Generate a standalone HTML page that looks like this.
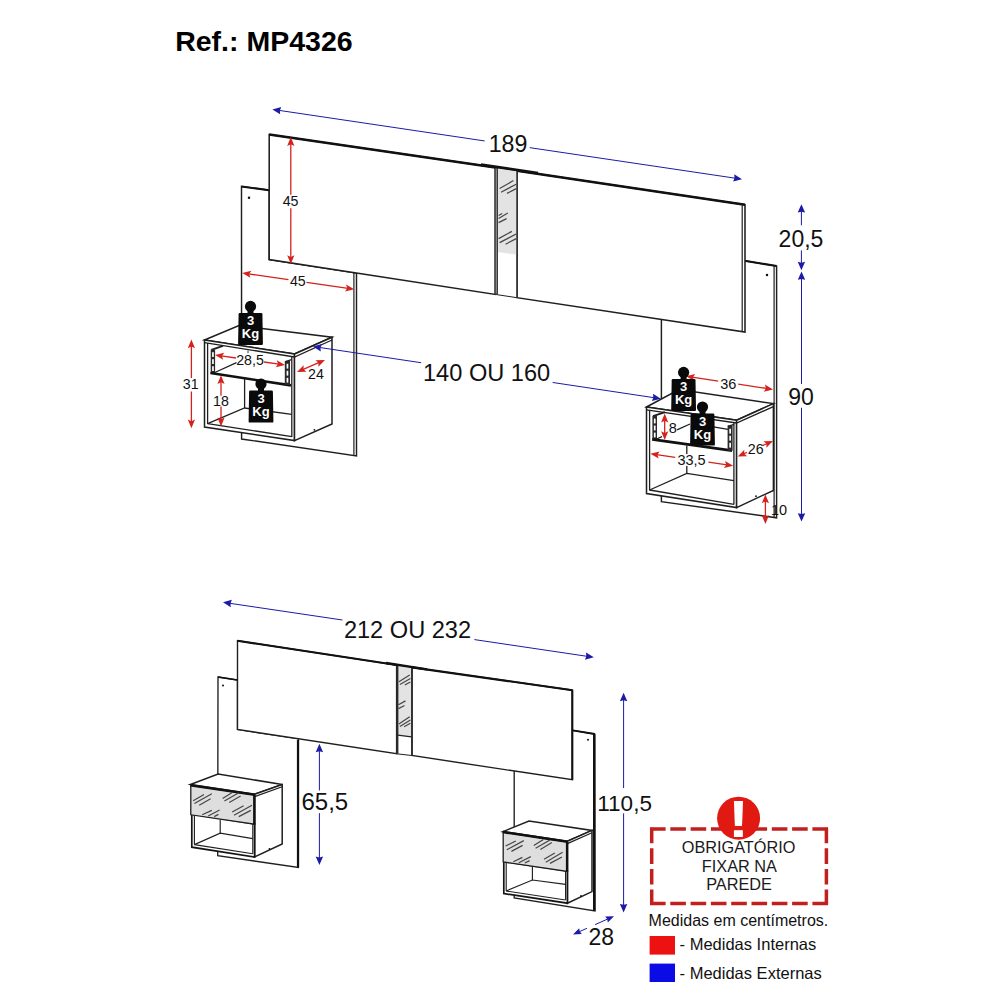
<!DOCTYPE html>
<html lang="pt-BR">
<head>
<meta charset="utf-8">
<title>Ref.: MP4326</title>
<style>
html,body{margin:0;padding:0;background:#fff;}
body{width:1000px;height:1000px;overflow:hidden;font-family:"Liberation Sans",Arial,sans-serif;}
svg{display:block;}
svg text{font-family:"Liberation Sans",Arial,sans-serif;}
</style>
</head>
<body>
<svg width="1000" height="1000" viewBox="0 0 1000 1000">
<rect x="0" y="0" width="1000" height="1000" fill="#ffffff"/>
<text x="175.20" y="51.40" font-size="28.5" text-anchor="start" font-weight="bold" fill="#000" >Ref.: MP4326</text>
<g id="top-drawing">
<polygon points="241.50,186.40 269.20,190.20 269.20,259.60 356.50,273.00 356.50,456.00 241.60,439.00" fill="#fff" stroke="#1f1f1f" stroke-width="1.45" stroke-linejoin="miter" />
<polyline points="241.50,186.50 269.00,190.20" fill="none" stroke="#111" stroke-width="2.1" />
<polyline points="353.90,273.00 353.90,455.40" fill="none" stroke="#1f1f1f" stroke-width="1.2" />
<circle cx="249" cy="197.8" r="1.25" fill="#111"/>
<polygon points="744.50,260.80 776.60,266.00 776.60,517.80 661.40,501.60 661.40,318.00" fill="#fff" stroke="#1f1f1f" stroke-width="1.45" stroke-linejoin="miter" />
<polyline points="744.50,260.80 776.60,266.00" fill="none" stroke="#111" stroke-width="2.1" />
<polyline points="774.10,266.00 774.10,517.20" fill="none" stroke="#1f1f1f" stroke-width="1.2" />
<circle cx="767" cy="275" r="1.25" fill="#111"/>
<polygon points="269.20,134.60 495.30,167.50 495.30,294.40 269.20,259.60" fill="#fff" stroke="#1f1f1f" stroke-width="1.55" stroke-linejoin="miter" />
<polyline points="269.20,134.60 495.30,167.50" fill="none" stroke="#111" stroke-width="2.5" />
<polygon points="517.00,170.80 745.00,204.70 745.00,332.00 517.00,297.70" fill="#fff" stroke="#1f1f1f" stroke-width="1.55" stroke-linejoin="miter" />
<polyline points="517.00,170.80 745.00,204.70" fill="none" stroke="#111" stroke-width="2.5" />
<polyline points="742.20,204.40 742.20,331.40" fill="none" stroke="#1f1f1f" stroke-width="1.2" />
<polygon points="495.30,167.40 517.00,171.00 517.00,297.70 495.30,294.40" fill="#fff" stroke="#1f1f1f" stroke-width="1.0" stroke-linejoin="miter" />
<polygon points="497.00,168.20 516.40,171.00 516.40,254.60 497.00,252.00" fill="#e3e3e3"/>
<polyline points="496.30,167.40 496.30,294.50" fill="none" stroke="#3a3a3a" stroke-width="3.4" />
<polyline points="496.30,168.60 496.30,293.60" fill="none" stroke="#8c8c8c" stroke-width="1.2" />
<polyline points="517.00,171.00 517.00,297.70" fill="none" stroke="#333" stroke-width="1.3" />
<polyline points="481.00,164.60 538.00,173.00" fill="none" stroke="#111" stroke-width="2.6" />
<line x1="499.60" y1="188.60" x2="513.40" y2="180.60" stroke="#454545" stroke-width="1.2"/>
<line x1="501.00" y1="192.20" x2="516.20" y2="184.20" stroke="#454545" stroke-width="1.2"/>
<line x1="507.00" y1="193.40" x2="516.20" y2="188.60" stroke="#454545" stroke-width="1.2"/>
<line x1="498.60" y1="215.40" x2="502.20" y2="213.40" stroke="#454545" stroke-width="1.2"/>
<line x1="498.60" y1="218.40" x2="507.80" y2="213.00" stroke="#454545" stroke-width="1.2"/>
<line x1="498.60" y1="222.60" x2="506.60" y2="218.60" stroke="#454545" stroke-width="1.2"/>
<line x1="498.60" y1="238.60" x2="511.80" y2="231.40" stroke="#454545" stroke-width="1.2"/>
<line x1="499.60" y1="242.60" x2="516.20" y2="234.00" stroke="#454545" stroke-width="1.2"/>
<line x1="505.60" y1="244.20" x2="516.20" y2="238.60" stroke="#454545" stroke-width="1.2"/>
<polygon points="204.50,340.00 239.00,325.50 332.00,337.20 294.50,354.00" fill="#fff" stroke="#1f1f1f" stroke-width="1.5" stroke-linejoin="miter" />
<polygon points="204.50,340.00 294.50,354.00 294.50,440.60 204.50,427.00" fill="#fff" stroke="#1f1f1f" stroke-width="1.5" stroke-linejoin="miter" />
<polygon points="294.50,354.00 332.00,337.20 332.00,424.00 294.50,440.60" fill="#fff" stroke="#1f1f1f" stroke-width="1.5" stroke-linejoin="miter" />
<polyline points="204.50,342.60 294.50,357.00 332.00,340.00" fill="none" stroke="#1f1f1f" stroke-width="1.3" />
<polyline points="207.60,343.00 207.60,424.00" fill="none" stroke="#1f1f1f" stroke-width="1.3" />
<polyline points="291.80,356.60 291.80,437.00" fill="none" stroke="#1f1f1f" stroke-width="1.3" />
<polyline points="207.60,423.60 291.80,436.60" fill="none" stroke="#1f1f1f" stroke-width="1.3" />
<polyline points="207.60,423.60 244.60,408.00 291.80,414.40" fill="none" stroke="#1f1f1f" stroke-width="1.3" />
<polyline points="244.60,379.00 244.60,408.00" fill="none" stroke="#1f1f1f" stroke-width="1.3" />
<circle cx="314.4" cy="429.8" r="0.9" fill="#111"/>
<polyline points="211.30,349.80 223.00,345.80" fill="none" stroke="#1f1f1f" stroke-width="1.9" />
<rect x="210.7" y="349.6" width="4.4" height="23.6" fill="#2a2a2a"/>
<polyline points="214.80,372.50 236.50,362.60" fill="none" stroke="#1f1f1f" stroke-width="1.3" />
<polyline points="210.40,373.00 291.00,385.40" fill="none" stroke="#111" stroke-width="2.6" />
<rect x="284.8" y="361" width="5.2" height="24" fill="#2a2a2a"/>
<polyline points="285.20,361.60 291.60,359.60" fill="none" stroke="#1f1f1f" stroke-width="1.3" />
<polyline points="248.00,350.60 248.00,353.20" fill="none" stroke="#1f1f1f" stroke-width="0.9" />
<rect x="212.1" y="352.2" width="1.7" height="4.8" fill="#fff"/>
<rect x="286.6" y="363.8" width="1.7" height="4.8" fill="#fff"/>
<rect x="212.1" y="359.2" width="1.7" height="4.8" fill="#fff"/>
<rect x="286.6" y="370.8" width="1.7" height="4.8" fill="#fff"/>
<rect x="212.1" y="366.2" width="1.7" height="4.8" fill="#fff"/>
<rect x="286.6" y="377.8" width="1.7" height="4.8" fill="#fff"/>
<polygon points="646.50,407.00 679.00,389.50 773.40,403.60 736.60,420.20" fill="#fff" stroke="#1f1f1f" stroke-width="1.5" stroke-linejoin="miter" />
<polygon points="646.50,407.00 736.60,420.20 736.60,507.60 646.50,493.60" fill="#fff" stroke="#1f1f1f" stroke-width="1.5" stroke-linejoin="miter" />
<polygon points="736.60,420.20 773.40,403.60 773.40,490.40 736.60,507.60" fill="#fff" stroke="#1f1f1f" stroke-width="1.5" stroke-linejoin="miter" />
<polyline points="646.50,409.80 736.60,423.00 773.40,406.60" fill="none" stroke="#1f1f1f" stroke-width="1.3" />
<polyline points="649.60,410.20 649.60,490.40" fill="none" stroke="#1f1f1f" stroke-width="1.3" />
<polyline points="733.90,422.60 733.90,504.40" fill="none" stroke="#1f1f1f" stroke-width="1.3" />
<polyline points="649.60,490.00 733.90,504.40" fill="none" stroke="#1f1f1f" stroke-width="1.3" />
<polyline points="649.60,490.00 686.80,473.40 733.90,480.60" fill="none" stroke="#1f1f1f" stroke-width="1.3" />
<polyline points="686.80,445.40 686.80,454.00" fill="none" stroke="#1f1f1f" stroke-width="1.3" />
<polyline points="686.80,466.00 686.80,473.40" fill="none" stroke="#1f1f1f" stroke-width="1.3" />
<circle cx="756" cy="496.2" r="0.9" fill="#111"/>
<polyline points="653.00,416.20 665.00,412.20" fill="none" stroke="#1f1f1f" stroke-width="1.9" />
<rect x="652.4" y="416" width="4.6" height="23.6" fill="#2a2a2a"/>
<polyline points="656.60,439.00 662.00,436.60" fill="none" stroke="#1f1f1f" stroke-width="1.3" />
<polyline points="677.00,429.80 690.00,424.00" fill="none" stroke="#1f1f1f" stroke-width="1.3" />
<polyline points="652.20,439.40 732.00,450.60" fill="none" stroke="#111" stroke-width="2.6" />
<rect x="727.6" y="425.4" width="5" height="25.4" fill="#2a2a2a"/>
<polyline points="728.00,426.40 734.00,424.40" fill="none" stroke="#1f1f1f" stroke-width="1.3" />
<polyline points="712.00,426.60 728.00,429.40" fill="none" stroke="#1f1f1f" stroke-width="1.3" />
<rect x="653.9" y="418.6" width="1.7" height="4.8" fill="#fff"/>
<rect x="729.3" y="428.8" width="1.7" height="4.8" fill="#fff"/>
<rect x="653.9" y="425.6" width="1.7" height="4.8" fill="#fff"/>
<rect x="729.3" y="435.8" width="1.7" height="4.8" fill="#fff"/>
<rect x="653.9" y="432.6" width="1.7" height="4.8" fill="#fff"/>
<rect x="729.3" y="442.8" width="1.7" height="4.8" fill="#fff"/>
<polyline points="290.80,143.26 290.80,194.71" fill="none" stroke="#d3231c" stroke-width="1.3" />
<polyline points="290.80,208.16 290.80,257.84" fill="none" stroke="#d3231c" stroke-width="1.3" />
<polygon points="290.80,137.10 294.40,145.90 290.80,144.14 287.20,145.90" fill="#d3231c"/>
<polygon points="290.80,264.00 287.20,255.20 290.80,256.96 294.40,255.20" fill="#d3231c"/>
<text x="290.60" y="206.20" font-size="14.2" text-anchor="middle" font-weight="normal" fill="#111" >45</text>
<polyline points="248.30,273.88 288.46,279.69" fill="none" stroke="#d3231c" stroke-width="1.3" />
<polyline points="306.49,282.30 348.10,288.32" fill="none" stroke="#d3231c" stroke-width="1.3" />
<polygon points="242.20,273.00 251.42,270.70 249.17,274.01 250.39,277.82" fill="#d3231c"/>
<polygon points="354.20,289.20 344.98,291.50 347.23,288.19 346.01,284.38" fill="#d3231c"/>
<text x="297.80" y="285.80" font-size="14.2" text-anchor="middle" font-weight="normal" fill="#111" >45</text>
<polyline points="191.40,345.56 191.40,378.03" fill="none" stroke="#d3231c" stroke-width="1.3" />
<polyline points="191.40,391.53 191.40,422.04" fill="none" stroke="#d3231c" stroke-width="1.3" />
<polygon points="191.40,339.40 195.00,348.20 191.40,346.44 187.80,348.20" fill="#d3231c"/>
<polygon points="191.40,428.20 187.80,419.40 191.40,421.16 195.00,419.40" fill="#d3231c"/>
<text x="190.70" y="388.80" font-size="14.2" text-anchor="middle" font-weight="normal" fill="#111" >31</text>
<polyline points="221.10,355.87 236.00,358.00" fill="none" stroke="#d3231c" stroke-width="1.3" />
<polyline points="264.00,362.00 278.90,364.13" fill="none" stroke="#d3231c" stroke-width="1.3" />
<polygon points="215.00,355.00 224.22,352.68 221.97,356.00 223.20,359.81" fill="#d3231c"/>
<polygon points="285.00,365.00 275.78,367.32 278.03,364.00 276.80,360.19" fill="#d3231c"/>
<text x="250.00" y="364.80" font-size="14.2" text-anchor="middle" font-weight="normal" fill="#111" >28,5</text>
<polyline points="302.66,369.57 319.34,362.43" fill="none" stroke="#d3231c" stroke-width="1.3" />
<polygon points="297.00,372.00 303.67,365.22 303.47,369.23 306.51,371.84" fill="#d3231c"/>
<polygon points="325.00,360.00 318.33,366.78 318.53,362.77 315.49,360.16" fill="#d3231c"/>
<text x="316.00" y="378.80" font-size="14.2" text-anchor="middle" font-weight="normal" fill="#111" >24</text>
<polyline points="221.00,381.36 221.00,395.68" fill="none" stroke="#d3231c" stroke-width="1.3" />
<polyline points="221.00,406.43 221.00,420.24" fill="none" stroke="#d3231c" stroke-width="1.3" />
<polygon points="221.00,375.20 224.60,384.00 221.00,382.24 217.40,384.00" fill="#d3231c"/>
<polygon points="221.00,426.40 217.40,417.60 221.00,419.36 224.60,417.60" fill="#d3231c"/>
<text x="221.00" y="405.80" font-size="14.2" text-anchor="middle" font-weight="normal" fill="#111" >18</text>
<polyline points="692.09,377.12 718.19,381.08" fill="none" stroke="#d3231c" stroke-width="1.3" />
<polyline points="738.20,384.12 766.91,388.48" fill="none" stroke="#d3231c" stroke-width="1.3" />
<polygon points="686.00,376.20 695.24,373.96 692.96,377.26 694.16,381.08" fill="#d3231c"/>
<polygon points="773.00,389.40 763.76,391.64 766.04,388.34 764.84,384.52" fill="#d3231c"/>
<text x="728.20" y="388.60" font-size="14.5" text-anchor="middle" font-weight="normal" fill="#111" >36</text>
<polyline points="664.70,419.76 664.70,433.84" fill="none" stroke="#d3231c" stroke-width="1.3" />
<polygon points="664.70,413.60 668.30,422.40 664.70,420.64 661.10,422.40" fill="#d3231c"/>
<polygon points="664.70,440.00 661.10,431.20 664.70,432.96 668.30,431.20" fill="#d3231c"/>
<text x="672.80" y="433.40" font-size="14.5" text-anchor="middle" font-weight="normal" fill="#111" >8</text>
<polyline points="656.50,454.68 675.24,457.40" fill="none" stroke="#d3231c" stroke-width="1.3" />
<polyline points="708.36,462.20 727.10,464.92" fill="none" stroke="#d3231c" stroke-width="1.3" />
<polygon points="650.40,453.80 659.63,451.50 657.37,454.81 658.59,458.62" fill="#d3231c"/>
<polygon points="733.20,465.80 723.97,468.10 726.23,464.79 725.01,460.98" fill="#d3231c"/>
<text x="691.50" y="465.40" font-size="14.5" text-anchor="middle" font-weight="normal" fill="#111" >33,5</text>
<polyline points="743.34,454.02 746.88,452.47" fill="none" stroke="#d3231c" stroke-width="1.3" />
<polyline points="762.41,445.65 767.36,443.48" fill="none" stroke="#d3231c" stroke-width="1.3" />
<polygon points="737.70,456.50 744.31,449.67 744.15,453.67 747.20,456.26" fill="#d3231c"/>
<polygon points="773.00,441.00 766.39,447.83 766.55,443.83 763.50,441.24" fill="#d3231c"/>
<text x="755.70" y="454.20" font-size="14.2" text-anchor="middle" font-weight="normal" fill="#111" >26</text>
<polyline points="765.40,500.56 765.40,517.84" fill="none" stroke="#d3231c" stroke-width="1.3" />
<polygon points="765.40,494.40 769.00,503.20 765.40,501.44 761.80,503.20" fill="#d3231c"/>
<polygon points="765.40,524.00 761.80,515.20 765.40,516.96 769.00,515.20" fill="#d3231c"/>
<text x="779.00" y="514.60" font-size="14.5" text-anchor="middle" font-weight="normal" fill="#111" >10</text>
<circle cx="250.50" cy="306.40" r="5.6" fill="#0a0a0a"/>
<rect x="247.50" y="310.00" width="6" height="4" fill="#0a0a0a"/>
<path d="M239.70,313.00 L261.30,313.00 Q262.30,313.00 262.40,314.20 L262.90,343.80 Q262.90,345.00 261.70,345.00 L239.30,345.00 Q238.10,345.00 238.10,343.80 L238.60,314.20 Q238.70,313.00 239.70,313.00 Z" fill="#0a0a0a"/>
<text x="250.50" y="325.40" font-size="13" text-anchor="middle" font-weight="bold" fill="#fff" >3</text>
<text x="250.50" y="338.10" font-size="13" text-anchor="middle" font-weight="bold" fill="#fff" >Kg</text>
<circle cx="261.00" cy="384.00" r="5.6" fill="#0a0a0a"/>
<rect x="258.00" y="387.60" width="6" height="4" fill="#0a0a0a"/>
<path d="M250.20,390.60 L271.80,390.60 Q272.80,390.60 272.90,391.80 L273.40,421.40 Q273.40,422.60 272.20,422.60 L249.80,422.60 Q248.60,422.60 248.60,421.40 L249.10,391.80 Q249.20,390.60 250.20,390.60 Z" fill="#0a0a0a"/>
<text x="261.00" y="403.00" font-size="13" text-anchor="middle" font-weight="bold" fill="#fff" >3</text>
<text x="261.00" y="415.70" font-size="13" text-anchor="middle" font-weight="bold" fill="#fff" >Kg</text>
<circle cx="683.60" cy="372.40" r="5.6" fill="#0a0a0a"/>
<rect x="680.60" y="376.00" width="6" height="4" fill="#0a0a0a"/>
<path d="M672.80,379.00 L694.40,379.00 Q695.40,379.00 695.50,380.20 L696.00,409.80 Q696.00,411.00 694.80,411.00 L672.40,411.00 Q671.20,411.00 671.20,409.80 L671.70,380.20 Q671.80,379.00 672.80,379.00 Z" fill="#0a0a0a"/>
<text x="683.60" y="391.40" font-size="13" text-anchor="middle" font-weight="bold" fill="#fff" >3</text>
<text x="683.60" y="404.10" font-size="13" text-anchor="middle" font-weight="bold" fill="#fff" >Kg</text>
<circle cx="702.50" cy="407.00" r="5.6" fill="#0a0a0a"/>
<rect x="699.50" y="410.60" width="6" height="4" fill="#0a0a0a"/>
<path d="M691.70,413.60 L713.30,413.60 Q714.30,413.60 714.40,414.80 L714.90,444.40 Q714.90,445.60 713.70,445.60 L691.30,445.60 Q690.10,445.60 690.10,444.40 L690.60,414.80 Q690.70,413.60 691.70,413.60 Z" fill="#0a0a0a"/>
<text x="702.50" y="426.00" font-size="13" text-anchor="middle" font-weight="bold" fill="#fff" >3</text>
<text x="702.50" y="438.70" font-size="13" text-anchor="middle" font-weight="bold" fill="#fff" >Kg</text>
<polyline points="278.22,110.26 484.66,140.95" fill="none" stroke="#1b1ba6" stroke-width="1.0" />
<polyline points="529.74,147.65 736.18,178.34" fill="none" stroke="#1b1ba6" stroke-width="1.0" />
<polygon points="272.40,109.40 281.25,106.98 279.88,110.51 280.16,114.29" fill="#1b1ba6"/>
<polygon points="742.00,179.20 733.15,181.62 734.52,178.09 734.24,174.31" fill="#1b1ba6"/>
<text x="508.00" y="152.00" font-size="23.2" text-anchor="middle" font-weight="normal" fill="#111" >189</text>
<polyline points="801.40,210.08 801.40,225.32" fill="none" stroke="#1b1ba6" stroke-width="1.0" />
<polyline points="801.40,250.40 801.40,264.32" fill="none" stroke="#1b1ba6" stroke-width="1.0" />
<polygon points="801.40,204.20 805.10,212.60 801.40,211.76 797.70,212.60" fill="#1b1ba6"/>
<polygon points="801.40,270.20 797.70,261.80 801.40,262.64 805.10,261.80" fill="#1b1ba6"/>
<text x="801.00" y="246.50" font-size="23" text-anchor="middle" font-weight="normal" fill="#111" >20,5</text>
<polyline points="801.50,277.28 801.50,383.99" fill="none" stroke="#1b1ba6" stroke-width="1.0" />
<polyline points="801.50,407.76 801.50,515.72" fill="none" stroke="#1b1ba6" stroke-width="1.0" />
<polygon points="801.50,271.40 805.20,279.80 801.50,278.96 797.80,279.80" fill="#1b1ba6"/>
<polygon points="801.50,521.60 797.80,513.20 801.50,514.04 805.20,513.20" fill="#1b1ba6"/>
<text x="801.00" y="405.00" font-size="23" text-anchor="middle" font-weight="normal" fill="#111" >90</text>
<polyline points="318.81,347.37 421.17,362.73" fill="none" stroke="#1b1ba6" stroke-width="1.0" />
<polyline points="552.63,382.47 654.99,397.83" fill="none" stroke="#1b1ba6" stroke-width="1.0" />
<polygon points="313.00,346.50 321.86,344.09 320.48,347.62 320.76,351.41" fill="#1b1ba6"/>
<polygon points="660.80,398.70 651.94,401.11 653.32,397.58 653.04,393.79" fill="#1b1ba6"/>
<text x="486.60" y="380.60" font-size="23.6" text-anchor="middle" font-weight="normal" fill="#111" >140 OU 160</text>
</g>
<g id="bottom-drawing">
<polygon points="218.00,677.00 237.50,680.00 237.50,729.50 298.40,738.60 298.40,867.50 217.70,855.60" fill="#fff" stroke="#1f1f1f" stroke-width="1.35" stroke-linejoin="miter" />
<polyline points="298.00,740.00 298.00,867.30" fill="none" stroke="#111" stroke-width="2.2" />
<circle cx="223" cy="685.6" r="1" fill="#111"/>
<polygon points="572.50,730.40 594.70,734.00 595.00,911.00 514.20,898.00 514.20,770.00" fill="#fff" stroke="#1f1f1f" stroke-width="1.35" stroke-linejoin="miter" />
<polyline points="594.20,734.00 594.20,911.00" fill="none" stroke="#111" stroke-width="2.4" />
<circle cx="588" cy="739.8" r="1" fill="#111"/>
<polygon points="237.50,640.80 396.60,665.00 396.60,753.80 237.50,729.50" fill="#fff" stroke="#1f1f1f" stroke-width="1.4" stroke-linejoin="miter" />
<polyline points="237.50,640.80 396.60,665.00" fill="none" stroke="#111" stroke-width="2.1" />
<polygon points="411.90,667.40 572.50,690.20 572.50,779.80 411.90,755.50" fill="#fff" stroke="#1f1f1f" stroke-width="1.4" stroke-linejoin="miter" />
<polyline points="411.90,667.40 572.50,690.20" fill="none" stroke="#111" stroke-width="2.1" />
<polyline points="572.20,690.20 572.20,779.80" fill="none" stroke="#111" stroke-width="2.0" />
<polyline points="572.60,730.40 594.80,734.00" fill="none" stroke="#111" stroke-width="1.9" />
<polyline points="218.00,677.00 237.50,680.00" fill="none" stroke="#111" stroke-width="1.7" />
<polygon points="396.60,665.00 411.90,667.40 411.90,755.50 396.60,753.80" fill="#fff" stroke="#1f1f1f" stroke-width="1.0" stroke-linejoin="miter" />
<polygon points="398.00,666.00 411.30,668.00 411.30,737.00 398.00,735.00" fill="#e3e3e3"/>
<polyline points="397.30,665.00 397.30,753.80" fill="none" stroke="#2a2a2a" stroke-width="2.2" />
<polyline points="411.90,667.40 411.90,755.50" fill="none" stroke="#2a2a2a" stroke-width="1.6" />
<polyline points="386.00,663.00 427.00,669.40" fill="none" stroke="#111" stroke-width="2.4" />
<line x1="398.90" y1="681.70" x2="409.70" y2="675.00" stroke="#454545" stroke-width="1.2"/>
<line x1="399.90" y1="684.50" x2="410.40" y2="678.50" stroke="#454545" stroke-width="1.2"/>
<line x1="404.80" y1="685.10" x2="410.40" y2="682.00" stroke="#454545" stroke-width="1.2"/>
<line x1="398.50" y1="704.70" x2="405.50" y2="700.90" stroke="#454545" stroke-width="1.2"/>
<line x1="398.50" y1="708.60" x2="404.50" y2="705.50" stroke="#454545" stroke-width="1.2"/>
<line x1="398.90" y1="724.00" x2="409.70" y2="716.70" stroke="#454545" stroke-width="1.2"/>
<line x1="399.90" y1="726.50" x2="410.40" y2="720.10" stroke="#454545" stroke-width="1.2"/>
<line x1="404.10" y1="726.80" x2="410.40" y2="723.30" stroke="#454545" stroke-width="1.2"/>
<polyline points="397.80,735.20 411.50,736.80" fill="none" stroke="#222" stroke-width="1.2" />
<polygon points="190.40,784.50 218.10,774.00 282.20,784.50 254.60,794.20" fill="#fff" stroke="#1f1f1f" stroke-width="1.5" stroke-linejoin="miter" />
<polygon points="254.60,794.20 282.20,784.50 282.20,844.00 254.60,857.00" fill="#fff" stroke="#1f1f1f" stroke-width="1.5" stroke-linejoin="miter" />
<polyline points="254.60,796.60 282.20,786.80" fill="none" stroke="#1f1f1f" stroke-width="1.15" />
<polygon points="191.80,814.00 254.60,824.00 254.60,857.00 191.80,847.20" fill="#fff" stroke="#151515" stroke-width="1.7" stroke-linejoin="miter" />
<polyline points="194.40,815.00 194.40,844.60" fill="none" stroke="#1f1f1f" stroke-width="1.15" />
<polyline points="252.80,824.00 252.80,853.80" fill="none" stroke="#1f1f1f" stroke-width="1.15" />
<polyline points="194.40,844.60 252.80,853.80" fill="none" stroke="#1f1f1f" stroke-width="1.15" />
<polyline points="194.40,844.60 220.20,833.20 252.80,838.60" fill="none" stroke="#1f1f1f" stroke-width="1.15" />
<polyline points="220.20,820.00 220.20,833.20" fill="none" stroke="#1f1f1f" stroke-width="1.15" />
<circle cx="269.5" cy="848.8" r="0.9" fill="#111"/>
<polygon points="190.80,785.40 254.60,794.80 254.60,824.20 190.80,814.80" fill="#dedede" stroke="#1f1f1f" stroke-width="1.3" stroke-linejoin="miter" />
<polyline points="190.40,785.20 254.80,794.80" fill="none" stroke="#111" stroke-width="2.6" />
<polyline points="254.30,794.80 254.30,824.40" fill="none" stroke="#111" stroke-width="2.4" />
<line x1="193.20" y1="800.80" x2="204.00" y2="794.40" stroke="#454545" stroke-width="1.2"/>
<line x1="194.40" y1="803.60" x2="211.80" y2="793.80" stroke="#454545" stroke-width="1.2"/>
<line x1="199.20" y1="805.20" x2="210.60" y2="798.80" stroke="#454545" stroke-width="1.2"/>
<line x1="222.60" y1="798.40" x2="232.20" y2="792.60" stroke="#454545" stroke-width="1.2"/>
<line x1="224.40" y1="801.00" x2="238.80" y2="792.80" stroke="#454545" stroke-width="1.2"/>
<line x1="229.20" y1="802.40" x2="240.60" y2="796.00" stroke="#454545" stroke-width="1.2"/>
<line x1="202.20" y1="814.80" x2="211.80" y2="810.40" stroke="#454545" stroke-width="1.2"/>
<line x1="208.20" y1="816.00" x2="219.60" y2="810.00" stroke="#454545" stroke-width="1.2"/>
<line x1="214.20" y1="816.60" x2="218.40" y2="814.40" stroke="#454545" stroke-width="1.2"/>
<line x1="232.20" y1="812.00" x2="243.60" y2="805.80" stroke="#454545" stroke-width="1.2"/>
<line x1="234.00" y1="815.20" x2="252.00" y2="805.20" stroke="#454545" stroke-width="1.2"/>
<line x1="238.80" y1="816.60" x2="250.80" y2="810.40" stroke="#454545" stroke-width="1.2"/>
<polygon points="503.00,831.60 529.00,821.00 592.00,830.40 567.40,841.20" fill="#fff" stroke="#1f1f1f" stroke-width="1.5" stroke-linejoin="miter" />
<polygon points="567.40,841.20 592.00,830.40 592.00,891.60 567.40,903.20" fill="#fff" stroke="#1f1f1f" stroke-width="1.5" stroke-linejoin="miter" />
<polyline points="567.40,843.60 592.00,832.80" fill="none" stroke="#1f1f1f" stroke-width="1.15" />
<polygon points="503.80,861.40 567.40,871.00 567.40,903.20 503.80,893.60" fill="#fff" stroke="#151515" stroke-width="1.7" stroke-linejoin="miter" />
<polyline points="506.20,862.40 506.20,891.00" fill="none" stroke="#1f1f1f" stroke-width="1.15" />
<polyline points="565.60,871.00 565.60,900.00" fill="none" stroke="#1f1f1f" stroke-width="1.15" />
<polyline points="506.20,891.00 565.60,900.00" fill="none" stroke="#1f1f1f" stroke-width="1.15" />
<polyline points="506.20,891.00 532.40,880.00 565.60,884.40" fill="none" stroke="#1f1f1f" stroke-width="1.15" />
<polyline points="532.40,867.00 532.40,880.00" fill="none" stroke="#1f1f1f" stroke-width="1.15" />
<circle cx="581" cy="896" r="0.9" fill="#111"/>
<polygon points="503.20,832.20 567.40,841.80 567.40,871.40 503.20,862.00" fill="#dedede" stroke="#1f1f1f" stroke-width="1.3" stroke-linejoin="miter" />
<polyline points="502.80,832.00 567.60,841.80" fill="none" stroke="#111" stroke-width="2.6" />
<polyline points="567.10,841.80 567.10,871.60" fill="none" stroke="#111" stroke-width="2.4" />
<line x1="505.60" y1="846.00" x2="515.80" y2="841.00" stroke="#454545" stroke-width="1.2"/>
<line x1="506.80" y1="849.80" x2="523.80" y2="840.60" stroke="#454545" stroke-width="1.2"/>
<line x1="511.40" y1="851.40" x2="522.60" y2="845.40" stroke="#454545" stroke-width="1.2"/>
<line x1="533.80" y1="845.40" x2="543.40" y2="839.40" stroke="#454545" stroke-width="1.2"/>
<line x1="535.60" y1="848.20" x2="550.00" y2="840.00" stroke="#454545" stroke-width="1.2"/>
<line x1="540.40" y1="849.40" x2="551.80" y2="842.60" stroke="#454545" stroke-width="1.2"/>
<line x1="513.40" y1="861.80" x2="522.40" y2="857.40" stroke="#454545" stroke-width="1.2"/>
<line x1="518.80" y1="862.80" x2="530.80" y2="856.60" stroke="#454545" stroke-width="1.2"/>
<line x1="524.80" y1="863.00" x2="529.60" y2="860.60" stroke="#454545" stroke-width="1.2"/>
<line x1="544.00" y1="859.20" x2="554.80" y2="853.00" stroke="#454545" stroke-width="1.2"/>
<line x1="545.80" y1="862.20" x2="562.60" y2="852.20" stroke="#454545" stroke-width="1.2"/>
<line x1="550.00" y1="863.40" x2="562.00" y2="857.00" stroke="#454545" stroke-width="1.2"/>
<polyline points="228.82,603.16 342.40,620.01" fill="none" stroke="#1b1ba6" stroke-width="1.0" />
<polyline points="474.40,639.59 587.98,656.44" fill="none" stroke="#1b1ba6" stroke-width="1.0" />
<polygon points="223.00,602.30 231.85,599.87 230.48,603.41 230.77,607.19" fill="#1b1ba6"/>
<polygon points="593.80,657.30 584.95,659.73 586.32,656.19 586.03,652.41" fill="#1b1ba6"/>
<text x="407.50" y="638.40" font-size="23.6" text-anchor="middle" font-weight="normal" fill="#111" >212 OU 232</text>
<polyline points="319.40,749.68 319.40,790.46" fill="none" stroke="#1b1ba6" stroke-width="1.0" />
<polyline points="319.40,813.13 319.40,859.12" fill="none" stroke="#1b1ba6" stroke-width="1.0" />
<polygon points="319.40,743.80 323.10,752.20 319.40,751.36 315.70,752.20" fill="#1b1ba6"/>
<polygon points="319.40,865.00 315.70,856.60 319.40,857.44 323.10,856.60" fill="#1b1ba6"/>
<text x="324.80" y="810.00" font-size="24" text-anchor="middle" font-weight="normal" fill="#111" >65,5</text>
<polyline points="623.60,698.68 623.60,788.11" fill="none" stroke="#1b1ba6" stroke-width="1.0" />
<polyline points="623.60,813.36 623.60,906.52" fill="none" stroke="#1b1ba6" stroke-width="1.0" />
<polygon points="623.60,692.80 627.30,701.20 623.60,700.36 619.90,701.20" fill="#1b1ba6"/>
<polygon points="623.60,912.40 619.90,904.00 623.60,904.84 627.30,904.00" fill="#1b1ba6"/>
<text x="624.60" y="810.60" font-size="22.5" text-anchor="middle" font-weight="normal" fill="#111" >110,5</text>
<polyline points="578.24,932.16 586.94,928.28" fill="none" stroke="#1b1ba6" stroke-width="1.0" />
<polyline points="595.14,924.62 608.76,918.54" fill="none" stroke="#1b1ba6" stroke-width="1.0" />
<polygon points="573.00,934.50 579.18,928.24 579.74,931.49 581.79,934.08" fill="#1b1ba6"/>
<polygon points="614.00,916.20 607.82,922.46 607.26,919.21 605.21,916.62" fill="#1b1ba6"/>
<text x="601.20" y="944.60" font-size="23" text-anchor="middle" font-weight="normal" fill="#111" >28</text>
</g>
<g id="legend">
<rect x="651.7" y="828.7" width="174.6" height="74.6" fill="#fff"/>
<line x1="650" y1="829.1" x2="828" y2="829.1" stroke="#c1201f" stroke-width="3.5" stroke-dasharray="15.6 4.7"/>
<line x1="650" y1="903.4" x2="828" y2="903.4" stroke="#c1201f" stroke-width="3.5" stroke-dasharray="15.6 4.7"/>
<line x1="651.7" y1="827.7" x2="651.7" y2="905" stroke="#c1201f" stroke-width="3.5" stroke-dasharray="15.6 5"/>
<line x1="826.4" y1="827.7" x2="826.4" y2="905" stroke="#c1201f" stroke-width="3.5" stroke-dasharray="15.6 5"/>
<circle cx="738.6" cy="818.2" r="21.5" fill="#e01a12"/>
<text x="0" y="0" transform="translate(738.6 837.3) scale(1.2 1)" font-size="52.5" font-weight="bold" text-anchor="middle" fill="#ffffff">!</text>
<text x="738.60" y="852.60" font-size="16.3" text-anchor="middle" font-weight="normal" fill="#1a1a1a" >OBRIGATÓRIO</text>
<text x="739.40" y="871.60" font-size="16.3" text-anchor="middle" font-weight="normal" fill="#1a1a1a" >FIXAR NA</text>
<text x="739.00" y="890.20" font-size="16.3" text-anchor="middle" font-weight="normal" fill="#1a1a1a" >PAREDE</text>
<text x="648.60" y="926.00" font-size="16" text-anchor="start" font-weight="normal" fill="#111" >Medidas em centímetros.</text>
<rect x="649.6" y="936" width="25.4" height="18.6" fill="#ee1111"/>
<text x="679.60" y="950.00" font-size="16.5" text-anchor="start" font-weight="normal" fill="#111" >- Medidas Internas</text>
<rect x="649.6" y="963.6" width="25.4" height="18.4" fill="#0b0be6"/>
<text x="679.60" y="979.00" font-size="16.5" text-anchor="start" font-weight="normal" fill="#111" >- Medidas Externas</text>
</g>
</svg>
</body>
</html>
